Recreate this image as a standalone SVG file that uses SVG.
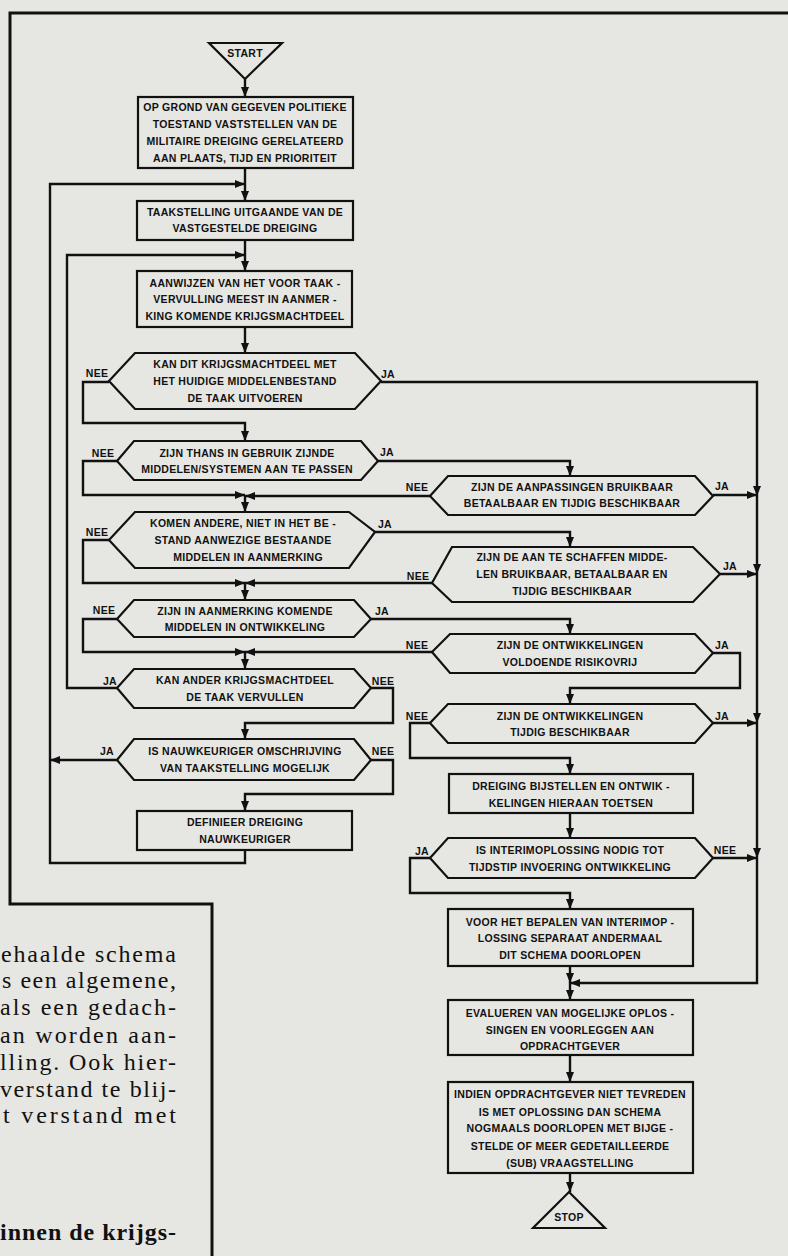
<svg xmlns="http://www.w3.org/2000/svg" width="788" height="1256" viewBox="0 0 788 1256">
<defs>
<marker id="arr" markerUnits="userSpaceOnUse" markerWidth="11" markerHeight="9" refX="10" refY="4" orient="auto">
<path d="M0,0 L10,4 L0,8 z" fill="#111"/>
</marker>
</defs>
<style>
.bg{fill:#e6e6e3}
.box{fill:none;stroke:#111;stroke-width:2.2}
.c{fill:none;stroke:#111;stroke-width:2.4;marker-end:url(#arr)}
.frame{fill:none;stroke:#111;stroke-width:3}
.t{font-family:"Liberation Sans",Arial,sans-serif;font-weight:bold;font-size:10.5px;letter-spacing:0.3px;text-anchor:middle;fill:#111}
.lb{font-family:"Liberation Sans",Arial,sans-serif;font-weight:bold;font-size:10.5px;letter-spacing:0.3px;text-anchor:middle;fill:#111}
.p{font-family:"Liberation Serif","Times New Roman",serif;font-size:24px;fill:#111}
.pb{font-family:"Liberation Serif","Times New Roman",serif;font-size:24px;font-weight:bold;fill:#111}
</style>
<rect class="bg" x="0" y="0" width="788" height="1256"/>
<g id="frame">
<path class="frame" d="M788,13 H10 V904 H212 V1256"/>
</g>
<g id="connectors">
<path class="c" d="M245,79 V97"/>
<path class="c" d="M245,168 V201"/>
<path class="c" d="M245,850 V863 H50 V184 H245"/>
<path class="c" d="M117,760 H50"/>
<path class="c" d="M245,240 V271"/>
<path class="c" d="M117,688 H67 V255 H245"/>
<path class="c" d="M245,327 V353"/>
<path class="c" d="M109,382 H83 V423 H245 V441"/>
<path class="c" d="M381,382 H757 V496"/>
<path class="c" d="M757,496 V574"/>
<path class="c" d="M757,574 V723"/>
<path class="c" d="M757,723 V858"/>
<path class="c" d="M757,858 V983 H570"/>
<path class="c" d="M378,461 H570 V476"/>
<path class="c" d="M117,461 H83 V495 H245"/>
<path class="c" d="M430,496 H245"/>
<path class="c" d="M245,495 V512"/>
<path class="c" d="M713,495 H757"/>
<path class="c" d="M375,532 H570 V547"/>
<path class="c" d="M109,540 H83 V583 H245"/>
<path class="c" d="M432,583 H245"/>
<path class="c" d="M245,583 V600"/>
<path class="c" d="M720,574 H757"/>
<path class="c" d="M371,619 H570 V634"/>
<path class="c" d="M117,619 H83 V652 H245"/>
<path class="c" d="M432,652 H245"/>
<path class="c" d="M245,652 V669"/>
<path class="c" d="M713,653 H740 V688 H570 V704"/>
<path class="c" d="M713,723 H757"/>
<path class="c" d="M430,723 H410 V758 H570 V774"/>
<path class="c" d="M371,688 H393 V723 H245 V739"/>
<path class="c" d="M371,760 H393 V794 H245 V811"/>
<path class="c" d="M570,813 V838"/>
<path class="c" d="M713,858 H757"/>
<path class="c" d="M430,858 H410 V893 H570 V909"/>
<path class="c" d="M570,966 V983"/>
<path class="c" d="M570,983 V1000"/>
<path class="c" d="M570,1055 V1082"/>
<path class="c" d="M570,1173 V1192"/>
</g>
<g id="start">
<polygon class="box" points="209,43 282,43 245,79"/>
<text class="t" x="245" y="57">START</text>
</g>
<g id="n1">
<rect class="box" x="138" y="97" width="215" height="71"/>
<text class="t" x="245" y="111">OP GROND VAN GEGEVEN POLITIEKE</text>
<text class="t" x="245" y="128">TOESTAND VASTSTELLEN VAN DE</text>
<text class="t" x="245" y="145">MILITAIRE DREIGING GERELATEERD</text>
<text class="t" x="245" y="162">AAN PLAATS, TIJD EN PRIORITEIT</text>
</g>
<g id="n2">
<rect class="box" x="137" y="201" width="216" height="39"/>
<text class="t" x="245" y="216">TAAKSTELLING UITGAANDE VAN DE</text>
<text class="t" x="245" y="232">VASTGESTELDE DREIGING</text>
</g>
<g id="n3">
<rect class="box" x="137" y="271" width="215" height="56"/>
<text class="t" x="245" y="287">AANWIJZEN VAN HET VOOR TAAK -</text>
<text class="t" x="245" y="303">VERVULLING MEEST IN AANMER -</text>
<text class="t" x="245" y="320">KING KOMENDE KRIJGSMACHTDEEL</text>
</g>
<g id="d1">
<polygon class="box" points="109,381 135,353 355,353 381,381 355,409 135,409"/>
<text class="t" x="245" y="368">KAN DIT KRIJGSMACHTDEEL MET</text>
<text class="t" x="245" y="385">HET HUIDIGE MIDDELENBESTAND</text>
<text class="t" x="245" y="402">DE TAAK UITVOEREN</text>
<text class="lb" x="97" y="377">NEE</text>
<text class="lb" x="388" y="378">JA</text>
</g>
<g id="d2">
<polygon class="box" points="117,461 134,441 361,441 378,461 361,480 134,480"/>
<text class="t" x="247" y="457">ZIJN THANS IN GEBRUIK ZIJNDE</text>
<text class="t" x="247" y="473">MIDDELEN/SYSTEMEN AAN TE PASSEN</text>
<text class="lb" x="103" y="457">NEE</text>
<text class="lb" x="387" y="456">JA</text>
</g>
<g id="d3">
<polygon class="box" points="109,540 135,512 349,512 375,532 349,568 135,568"/>
<text class="t" x="243" y="527">KOMEN ANDERE, NIET IN HET BE -</text>
<text class="t" x="243" y="544">STAND AANWEZIGE BESTAANDE</text>
<text class="t" x="248" y="561">MIDDELEN IN AANMERKING</text>
<text class="lb" x="97" y="536">NEE</text>
<text class="lb" x="385" y="528">JA</text>
</g>
<g id="d4">
<polygon class="box" points="117,619 134,600 354,600 371,619 354,637 134,637"/>
<text class="t" x="245" y="615">ZIJN IN AANMERKING KOMENDE</text>
<text class="t" x="245" y="631">MIDDELEN IN ONTWIKKELING</text>
<text class="lb" x="104" y="614">NEE</text>
<text class="lb" x="382" y="615">JA</text>
</g>
<g id="d5">
<polygon class="box" points="117,688 134,669 354,669 371,688 354,708 134,708"/>
<text class="t" x="245" y="684">KAN ANDER KRIJGSMACHTDEEL</text>
<text class="t" x="245" y="701">DE TAAK VERVULLEN</text>
<text class="lb" x="110" y="685">JA</text>
<text class="lb" x="383" y="685">NEE</text>
</g>
<g id="d6">
<polygon class="box" points="117,760 134,739 354,739 371,760 354,780 134,780"/>
<text class="t" x="245" y="755">IS NAUWKEURIGER OMSCHRIJVING</text>
<text class="t" x="245" y="772">VAN TAAKSTELLING MOGELIJK</text>
<text class="lb" x="107" y="755">JA</text>
<text class="lb" x="383" y="755">NEE</text>
</g>
<g id="n4">
<rect class="box" x="137" y="811" width="215" height="39"/>
<text class="t" x="245" y="826">DEFINIEER DREIGING</text>
<text class="t" x="245" y="843">NAUWKEURIGER</text>
</g>
<g id="r1">
<polygon class="box" points="430,496 448,476 695,476 713,496 695,515 448,515"/>
<text class="t" x="572" y="491">ZIJN DE AANPASSINGEN BRUIKBAAR</text>
<text class="t" x="572" y="507">BETAALBAAR EN TIJDIG BESCHIKBAAR</text>
<text class="lb" x="417" y="491">NEE</text>
<text class="lb" x="722" y="490">JA</text>
</g>
<g id="r2">
<polygon class="box" points="432,583 452,547 693,547 720,574 693,602 452,602"/>
<text class="t" x="572" y="561">ZIJN DE AAN TE SCHAFFEN MIDDE-</text>
<text class="t" x="572" y="578">LEN BRUIKBAAR, BETAALBAAR EN</text>
<text class="t" x="572" y="595">TIJDIG BESCHIKBAAR</text>
<text class="lb" x="418" y="580">NEE</text>
<text class="lb" x="730" y="570">JA</text>
</g>
<g id="r3">
<polygon class="box" points="432,652 450,634 695,634 713,653 695,673 450,673"/>
<text class="t" x="570" y="649">ZIJN DE ONTWIKKELINGEN</text>
<text class="t" x="570" y="666">VOLDOENDE RISIKOVRIJ</text>
<text class="lb" x="417" y="649">NEE</text>
<text class="lb" x="722" y="649">JA</text>
</g>
<g id="r4">
<polygon class="box" points="430,723 448,704 695,704 713,723 695,743 448,743"/>
<text class="t" x="570" y="720">ZIJN DE ONTWIKKELINGEN</text>
<text class="t" x="570" y="736">TIJDIG BESCHIKBAAR</text>
<text class="lb" x="417" y="720">NEE</text>
<text class="lb" x="722" y="720">JA</text>
</g>
<g id="r5">
<rect class="box" x="449" y="774" width="244" height="39"/>
<text class="t" x="571" y="790">DREIGING BIJSTELLEN EN ONTWIK -</text>
<text class="t" x="571" y="807">KELINGEN HIERAAN TOETSEN</text>
</g>
<g id="r6">
<polygon class="box" points="430,858 448,838 695,838 713,858 695,878 448,878"/>
<text class="t" x="570" y="854">IS INTERIMOPLOSSING NODIG TOT</text>
<text class="t" x="570" y="871">TIJDSTIP INVOERING ONTWIKKELING</text>
<text class="lb" x="422" y="855">JA</text>
<text class="lb" x="725" y="854">NEE</text>
</g>
<g id="r7">
<rect class="box" x="448" y="909" width="245" height="57"/>
<text class="t" x="570" y="926">VOOR HET BEPALEN VAN INTERIMOP -</text>
<text class="t" x="570" y="942">LOSSING SEPARAAT ANDERMAAL</text>
<text class="t" x="570" y="959">DIT SCHEMA DOORLOPEN</text>
</g>
<g id="r8">
<rect class="box" x="448" y="1000" width="245" height="55"/>
<text class="t" x="570" y="1017">EVALUEREN VAN MOGELIJKE OPLOS -</text>
<text class="t" x="570" y="1034">SINGEN EN VOORLEGGEN AAN</text>
<text class="t" x="570" y="1050">OPDRACHTGEVER</text>
</g>
<g id="r9">
<rect class="box" x="448" y="1082" width="245" height="91"/>
<text class="t" x="570" y="1098">INDIEN OPDRACHTGEVER NIET TEVREDEN</text>
<text class="t" x="570" y="1116">IS MET OPLOSSING DAN SCHEMA</text>
<text class="t" x="570" y="1132">NOGMAALS DOORLOPEN MET BIJGE -</text>
<text class="t" x="570" y="1150">STELDE OF MEER GEDETAILLEERDE</text>
<text class="t" x="570" y="1167">(SUB) VRAAGSTELLING</text>
</g>
<g id="stop">
<polygon class="box" points="569,1192 605,1228 533,1228"/>
<text class="t" x="569" y="1221">STOP</text>
</g>
<g id="page-text">
<text class="p" x="1" y="962" textLength="175" lengthAdjust="spacing">ehaalde schema</text>
<text class="p" x="2" y="988" textLength="174" lengthAdjust="spacing">s een algemene,</text>
<text class="p" x="0" y="1015" textLength="176" lengthAdjust="spacing">als een gedach-</text>
<text class="p" x="0" y="1043" textLength="176" lengthAdjust="spacing">an worden aan-</text>
<text class="p" x="0" y="1070" textLength="176" lengthAdjust="spacing">lling. Ook hier-</text>
<text class="p" x="0" y="1097" textLength="176" lengthAdjust="spacing">verstand te blij-</text>
<text class="p" x="3" y="1123" textLength="173" lengthAdjust="spacing">t verstand met</text>
<text class="pb" x="0" y="1240" textLength="176" lengthAdjust="spacing">innen de krijgs-</text>
</g>
</svg>
